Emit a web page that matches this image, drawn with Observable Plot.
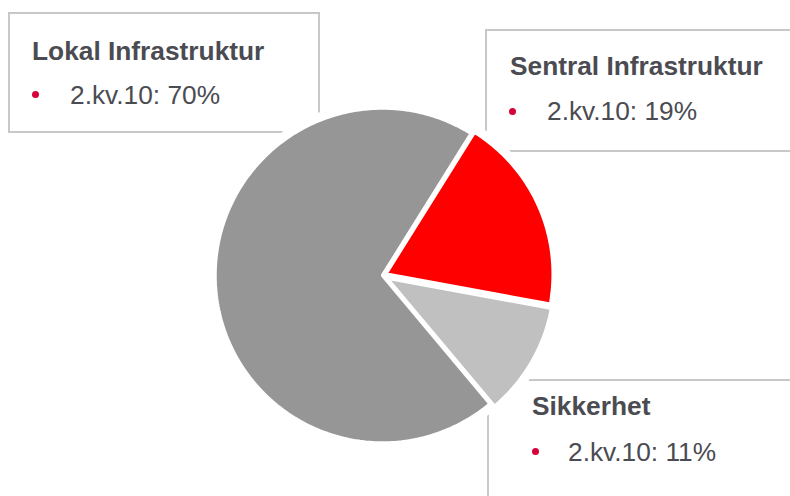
<!DOCTYPE html>
<html><head><meta charset="utf-8">
<script src="https://cdn.jsdelivr.net/npm/d3@7"></script>
<script src="https://cdn.jsdelivr.net/npm/@observablehq/plot@0.6"></script>
<style>
html,body{margin:0;padding:0;background:#fff;}
#wrap{position:relative;width:790px;height:496px;overflow:hidden;font-family:"Liberation Sans",Arial,sans-serif;}
.box{position:absolute;border:2px solid #c8c8c8;box-sizing:border-box;background:#fff;}
.lab{position:absolute;white-space:nowrap;color:#4b4b52;line-height:1;}
.t{font-weight:bold;}
.dot{position:absolute;width:7px;height:7px;border-radius:50%;background:#d6003b;}
#chart{position:absolute;left:0;top:0;}
</style></head><body><div id="wrap"></div>
<script>
// ---- data ----
const categories = ["Lokal Infrastruktur", "Sentral Infrastruktur", "Sikkerhet"];
const values = [70, 19, 11];
const period = "2.kv.10";

// ---- styles / layout ----
const colors = ["#969696", "#ff0000", "#c0c0c0"];
const cx = 382, cy = 275, R = 167.5;
const explodePx = [0, 3.5, 5];
const startDeg = 140;
const boxes = [
  {left: 8, top: 12, w: 312, h: 121, title: [32, 60], dot: [35, 94], text: [70, 104]},
  {left: 485, top: 29, w: 330, h: 123, title: [510, 75], dot: [512, 111], text: [547, 120]},
  {left: 487, top: 379, w: 330, h: 140, title: [532, 415], dot: [535, 451], text: [568, 461]}
];
const fs = 26.3, baseOff = 0.8465 * fs;

const wrap = document.getElementById("wrap");
boxes.forEach((b, i) => {
  const box = document.createElement("div");
  box.className = "box";
  Object.assign(box.style, {left: b.left + "px", top: b.top + "px", width: b.w + "px", height: b.h + "px"});
  wrap.appendChild(box);
  const t = document.createElement("div");
  t.className = "lab t";
  t.textContent = categories[i];
  Object.assign(t.style, {fontSize: fs + "px", left: b.title[0] + "px", top: (b.title[1] - baseOff) + "px"});
  wrap.appendChild(t);
  const d = document.createElement("div");
  d.className = "dot";
  Object.assign(d.style, {left: (b.dot[0] - 3.5) + "px", top: (b.dot[1] - 3.5) + "px"});
  wrap.appendChild(d);
  const v = document.createElement("div");
  v.className = "lab";
  v.textContent = `${period}: ${values[i]}%`;
  Object.assign(v.style, {fontSize: fs + "px", left: b.text[0] + "px", top: (b.text[1] - baseOff) + "px"});
  wrap.appendChild(v);
});

// ---- pie geometry from values ----
const arcs = d3.pie().sort(null).startAngle(startDeg * Math.PI / 180).endAngle(startDeg * Math.PI / 180 + 2 * Math.PI)(values);
const slices = arcs.map((a, i) => {
  const mid = (a.startAngle + a.endAngle) / 2;
  const ox = Math.sin(mid) * explodePx[i] / R, oy = Math.cos(mid) * explodePx[i] / R;
  const pts = [{x: ox, y: oy, c: categories[i]}];
  const n = Math.max(8, Math.ceil((a.endAngle - a.startAngle) * 60));
  for (let k = 0; k <= n; k++) {
    const t = a.startAngle + (a.endAngle - a.startAngle) * k / n;
    pts.push({x: ox + Math.sin(t), y: oy + Math.cos(t), c: categories[i]});
  }
  return pts;
});

const marks = [];
slices.forEach((pts) => marks.push(Plot.line(pts, {x: "x", y: "y", curve: "linear-closed", fill: "white", stroke: "white", strokeWidth: 15, strokeLinejoin: "round"})));
slices.forEach((pts, i) => marks.push(Plot.line(pts, {x: "x", y: "y", curve: "linear-closed", fill: colors[i], stroke: "white", strokeWidth: 3.5, strokeLinejoin: "miter"})));

const chart = Plot.plot({
  width: 790, height: 496, margin: 0,
  x: {domain: [-1, 1], range: [cx - R, cx + R], axis: null},
  y: {domain: [-1, 1], range: [cy + R, cy - R], axis: null},
  style: {background: "transparent"},
  marks
});
chart.id = "chart";
wrap.appendChild(chart);
</script></body></html>
